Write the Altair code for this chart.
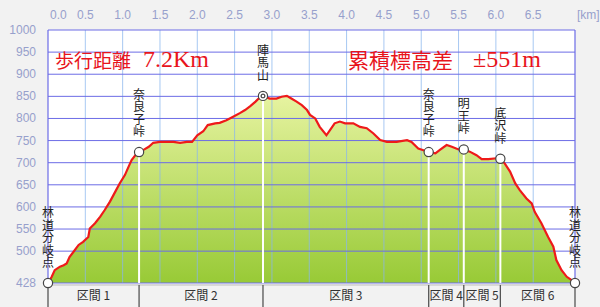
import altair as alt
import pandas as pd

# ---------------- data ----------------
km = [0.00, 0.05, 0.09, 0.16, 0.21, 0.25, 0.29, 0.34, 0.41, 0.47,
      0.54, 0.56, 0.63, 0.70, 0.76, 0.83, 0.90, 0.96, 1.03, 1.08,
      1.12, 1.19, 1.22, 1.28, 1.35, 1.41, 1.50, 1.68, 1.77, 1.86,
      1.93, 2.00, 2.08, 2.14, 2.24, 2.30, 2.39, 2.48, 2.57, 2.64,
      2.71, 2.78, 2.84, 2.88, 2.97, 3.06, 3.13, 3.20, 3.26, 3.33,
      3.40, 3.47, 3.51, 3.58, 3.64, 3.73, 3.78, 3.84, 3.91, 3.98,
      4.09, 4.18, 4.27, 4.36, 4.45, 4.54, 4.67, 4.81, 4.87, 4.96,
      5.05, 5.10, 5.19, 5.25, 5.34, 5.41, 5.50, 5.57, 5.65, 5.74,
      5.81, 5.90, 6.01, 6.06, 6.12, 6.19, 6.26, 6.32, 6.41, 6.48,
      6.52, 6.61, 6.70, 6.77, 6.81, 6.88, 6.95, 7.02, 7.06]
elev = [428, 442, 457, 465, 468, 472, 487, 498, 514, 521,
        532, 551, 563, 578, 593, 612, 634, 653, 672, 691,
        706, 721, 724, 729, 736, 745, 747, 747, 745, 747,
        747, 762, 771, 785, 789, 790, 796, 804, 812, 819,
        828, 838, 848, 851, 845, 845, 849, 851, 845, 838,
        830, 819, 808, 800, 781, 762, 774, 789, 793, 789,
        789, 781, 778, 766, 751, 747, 747, 751, 747, 732,
        727, 724, 721, 729, 740, 736, 730, 730, 725, 717,
        708, 708, 710, 709, 698, 680, 653, 638, 619, 608,
        589, 563, 532, 510, 480, 457, 442, 434, 428]

wp_km = [0.00, 1.22, 2.88, 5.10, 5.57, 6.06, 7.06]
wp_elev = [428, 724, 851, 724, 730, 709, 428]
wp_name = ["林道分岐点", "奈良子峠", "陣馬山", "奈良子峠", "明王峠", "底沢峠", "林道分岐点"]
summit = ["陣馬山"]

sections = ["区間 1", "区間 2", "区間 3", "区間 4", "区間 5", "区間 6"]

x_ticks = [0.0, 0.5, 1.0, 1.5, 2.0, 2.5, 3.0, 3.5, 4.0, 4.5, 5.0, 5.5, 6.0, 6.5]
y_ticks = [428, 500, 550, 600, 650, 700, 750, 800, 850, 900, 950, 1000]

title_left = ["歩行距離", "7.2Km"]
title_right = ["累積標高差", "±551m"]

Y_MIN, Y_MAX = 428, 1000
X_MAX = km[-1]

# ---------------- tables ----------------
prof = pd.DataFrame({"km": km, "elev": elev})
wp = pd.DataFrame({"km": wp_km, "elev": wp_elev, "name": wp_name})
wp["label"] = ["\n".join(list(n)) for n in wp_name]
wp["n"] = [len(n) for n in wp_name]
mid_wp = wp.iloc[1:-1]
sec = pd.DataFrame({"name": sections, "start": wp_km[:-1], "end": wp_km[1:]})
sec["mid"] = (sec["start"] + sec["end"]) / 2
xt = pd.DataFrame({"g": x_ticks, "t": [f"{v:.1f}" for v in x_ticks]})
yt = pd.DataFrame({"g": y_ticks, "t": [str(v) for v in y_ticks]})
xg = xt.iloc[1:]
border = pd.DataFrame({"g": [0.0, X_MAX]})
sep = pd.DataFrame({"g": wp_km})

xs = alt.Scale(domain=[0, X_MAX], nice=False, zero=False)
ys = alt.Scale(domain=[Y_MIN, Y_MAX], range=[253, 0], nice=False, zero=False)

LBL = "#97a0cc"
AXF = "Liberation Sans"
JP = "Noto Sans CJK JP"
RED = "#e8141c"


def X(f):
    return alt.X(f, type="quantitative", scale=xs, axis=None)


def Y(f):
    return alt.Y(f, type="quantitative", scale=ys, axis=None)


def XD(v):
    return alt.XDatum(v, type="quantitative", scale=xs, axis=None)


def YD(v):
    return alt.YDatum(v, type="quantitative", scale=ys, axis=None)


grad = alt.Gradient(gradient="linear",
                    stops=[alt.GradientStop(color="#e6f3a0", offset=0),
                           alt.GradientStop(color="#98ca36", offset=1)],
                    x1=1, x2=1, y1=0, y2=1)

area = alt.Chart(prof).mark_area(fill=grad, opacity=1).encode(
    x=X("km"), y=Y("elev"), y2=alt.datum(Y_MIN))

vgrid = alt.Chart(xg).mark_rule(color="#8ab6ee", strokeWidth=1, opacity=0.75).encode(
    x=X("g"), y=YD(Y_MAX), y2=alt.datum(Y_MIN))

hgrid = alt.Chart(yt).mark_rule(color="#6c6ce6", strokeWidth=1).encode(
    y=Y("g"), x=XD(0), x2=alt.datum(X_MAX))

vborder = alt.Chart(border).mark_rule(color="#6c6ce6", strokeWidth=1.2).encode(
    x=X("g"), y=YD(Y_MAX), y2=alt.datum(Y_MIN))

wlines = alt.Chart(mid_wp).mark_rule(color="white", strokeWidth=2).encode(
    x=X("km"), y=Y("elev"), y2=alt.datum(Y_MIN))

line = alt.Chart(prof).mark_line(color="#ee1a1a", strokeWidth=2.2).encode(
    x=X("km"), y=Y("elev"))

secbg = alt.Chart(sec).mark_rect(fill="#f2f2f2").encode(
    x=X("start"), x2="end:Q", y=alt.value(254), y2=alt.value(277))

secline = alt.Chart(border.iloc[:1]).mark_rule(color="#bdbdbd", strokeWidth=1).encode(
    x=XD(0), x2=alt.datum(X_MAX), y=alt.value(255))

seps = alt.Chart(sep).mark_rule(color="#555555", strokeWidth=1.3).encode(
    x=X("g"), y=alt.value(255), y2=alt.value(277))

seclab = alt.Chart(sec).mark_text(font=JP, fontSize=12, color="#333333",
                                  baseline="middle").encode(
    x=X("mid"), y=alt.value(266), text="name:N")

circles = alt.Chart(wp).mark_circle(size=85, fill="white", stroke="#444444",
                                    strokeWidth=1.2, opacity=1).encode(
    x=X("km"), y=Y("elev"))

inner = alt.Chart(wp[wp["name"].isin(summit)]).mark_circle(
    size=14, fill="white", stroke="#444444", strokeWidth=1.2, opacity=1).encode(
    x=X("km"), y=Y("elev"))

LH = 12.5
wplabs = []
for n in sorted(wp["n"].unique()):
    sub = wp[wp["n"] == n]
    wplabs.append(
        alt.Chart(sub).mark_text(font=JP, fontSize=12, lineHeight=LH, lineBreak="\n",
                                 baseline="bottom", dy=-(13 + (int(n) - 1) * LH),
                                 color="#222222").encode(
            x=X("km"), y=Y("elev"), text="label:N"))

# axis labels as text through the scales
ylab = alt.Chart(yt).mark_text(font=AXF, fontSize=12, color=LBL, align="right",
                               baseline="middle", dx=-12).encode(
    x=alt.value(0), y=Y("g"), text="t:N")
xlab0 = alt.Chart(xt.iloc[:1]).mark_text(font=AXF, fontSize=12, color=LBL, align="left",
                                         baseline="bottom", dx=2).encode(
    x=X("g"), y=alt.value(-8), text="t:N")
xlab = alt.Chart(xt.iloc[1:]).mark_text(font=AXF, fontSize=12, color=LBL, align="center",
                                        baseline="bottom").encode(
    x=X("g"), y=alt.value(-8), text="t:N")

SERIF = "Liberation Serif, Noto Sans CJK JP"


def txt(s, x, size, y=37):
    return alt.Chart(pd.DataFrame({"t": [s]})).mark_text(
        font=SERIF, fontSize=size, color=RED, align="left", baseline="alphabetic").encode(
        x=alt.value(x), y=alt.value(y), text="t:N")


t1 = txt(title_left[0], 7, 19, 38)
t2 = txt(title_left[1], 95, 24)
t3 = txt(title_right[0], 300, 21, 38)
t4 = txt(title_right[1], 425, 24)

kmlab = alt.Chart(pd.DataFrame({"t": ["[km]"]})).mark_text(
    font=AXF, fontSize=12, color=LBL, align="left", baseline="bottom").encode(
    x=alt.value(529), y=alt.value(-8), text="t:N")

chart = alt.layer(
    area, vgrid, hgrid, vborder, wlines, line,
    secbg, secline, seps, seclab, circles, inner, *wplabs,
    ylab, xlab0, xlab, t1, t2, t3, t4, kmlab
).properties(
    width=527, height=277,
    autosize=alt.AutoSizeParams(type="none"),
    padding={"left": 48, "top": 30, "right": 25, "bottom": 0},
    background="#f2f2f2",
).configure_view(fill="white", stroke=None)

chart.save("out.html", embed_options={"renderer": "svg", "actions": False})
